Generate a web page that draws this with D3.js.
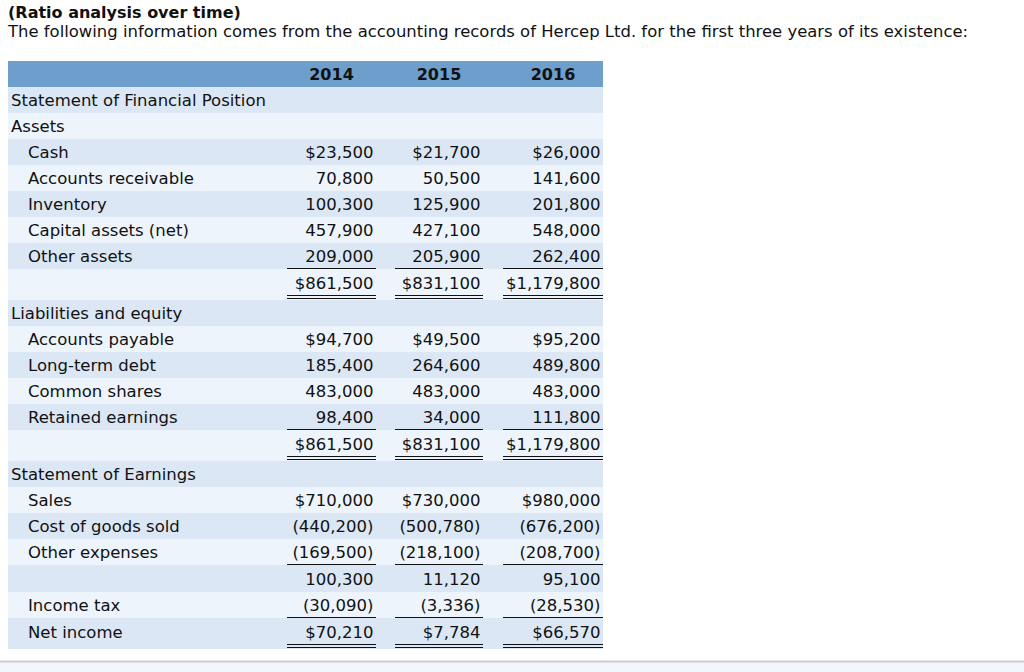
<!DOCTYPE html>
<html><head><meta charset="utf-8">
<script src="https://cdn.jsdelivr.net/npm/d3@7"></script>
<style>
html,body{margin:0;padding:0;background:#fff;}
svg{display:block;font-family:Verdana,"DejaVu Sans",sans-serif;}
</style></head>
<body><div id="chart"></div>
<script>
// ---------- data ----------
const title = "(Ratio analysis over time)";
const subtitle = "The following information comes from the accounting records of Hercep Ltd. for the first three years of its existence:";
const years = ["2014", "2015", "2016"];
const rowLabels = ["Statement of Financial Position", "Assets", "Cash", "Accounts receivable", "Inventory",
  "Capital assets (net)", "Other assets", "", "Liabilities and equity", "Accounts payable", "Long-term debt",
  "Common shares", "Retained earnings", "", "Statement of Earnings", "Sales", "Cost of goods sold",
  "Other expenses", "", "Income tax", "Net income"];
const rowKinds = ["section", "section", "item", "item", "item", "item", "item", "total", "section", "item", "item",
  "item", "item", "total", "section", "item", "item", "item", "subtotal", "item", "total"];
const dollarRows = [2, 7, 9, 13, 15, 20];
const values2014 = [null, null, 23500, 70800, 100300, 457900, 209000, 861500, null, 94700, 185400, 483000, 98400, 861500,
  null, 710000, -440200, -169500, 100300, -30090, 70210];
const values2015 = [null, null, 21700, 50500, 125900, 427100, 205900, 831100, null, 49500, 264600, 483000, 34000, 831100,
  null, 730000, -500780, -218100, 11120, -3336, 7784];
const values2016 = [null, null, 26000, 141600, 201800, 548000, 262400, 1179800, null, 95200, 489800, 483000, 111800, 1179800,
  null, 980000, -676200, -208700, 95100, -28530, 66570];
const seriesValues = [values2014, values2015, values2016];

// ---------- layout ----------
const W = 1024, H = 672;
const svg = d3.select("#chart").append("svg").attr("width", W).attr("height", H);
const fontSize = 16.5;
const tableLeft = 8, tableRight = 603;
const headerTop = 61, headerH = 26;
const colSpans = [[287, 376], [395, 483], [503, 603]];
const dark = "#dce7f5", light = "#edf4fc", headerColor = "#6e9ecb";

svg.append("text").attr("x", 8).attr("y", 18).attr("font-size", 16).attr("font-weight", "bold")
  .attr("fill", "#111").text(title);
svg.append("text").attr("x", 8).attr("y", 37).attr("font-size", 16.45).attr("fill", "#111").text(subtitle);

// header
svg.append("rect").attr("x", tableLeft).attr("y", headerTop).attr("width", tableRight - tableLeft)
  .attr("height", headerH).attr("fill", headerColor);
svg.selectAll("text.year").data(years).join("text").attr("class", "year")
  .attr("x", (d, i) => (colSpans[i][0] + colSpans[i][1]) / 2)
  .attr("y", headerTop + headerH / 2).attr("dy", "0.36em").attr("text-anchor", "middle")
  .attr("font-size", 16).attr("font-weight", "bold").attr("fill", "#111").text(d => d);

// rows
const hasTopRule = k => k === "total" || k === "subtotal";
const hasDouble = k => k === "total";
const rows = [];
let y = headerTop + headerH;
rowLabels.forEach((lab, i) => {
  const k = rowKinds[i];
  const h = 26 + (hasTopRule(k) ? 1 : 0) + (hasDouble(k) ? 4 : 0);
  rows.push({ i, lab, k, top: y, h, textY: y + (hasTopRule(k) ? 1 : 0) + 13 });
  y += h;
});

const fmtNum = d3.format(",");
function fmt(v, i) {
  if (v == null) return "";
  const s = (dollarRows.includes(i) ? "$" : "") + fmtNum(Math.abs(v));
  return v < 0 ? "(" + s + ")" : s;
}

const g = svg.selectAll("g.row").data(rows).join("g").attr("class", "row");
g.append("rect").attr("x", tableLeft).attr("y", d => d.top).attr("width", tableRight - tableLeft)
  .attr("height", d => d.h).attr("fill", d => d.i % 2 === 0 ? dark : light);
g.append("text").attr("x", d => d.k === "section" ? 11 : 28).attr("y", d => d.textY).attr("dy", "0.36em")
  .attr("font-size", fontSize).attr("fill", "#111").text(d => d.lab);

years.forEach((yr, c) => {
  const [x0, x1] = colSpans[c];
  g.append("text").attr("x", x1 - 2.5).attr("y", d => d.textY).attr("dy", "0.36em")
    .attr("text-anchor", "end").attr("font-size", fontSize).attr("fill", "#111")
    .text(d => fmt(seriesValues[c][d.i], d.i));
  g.filter(d => hasTopRule(d.k)).append("line").attr("x1", x0).attr("x2", x1)
    .attr("y1", d => d.top - 0.5).attr("y2", d => d.top - 0.5).attr("stroke", "#111").attr("stroke-width", 1);
  g.filter(d => hasDouble(d.k)).each(function (d) {
    const s = d3.select(this);
    [d.top + d.h - 4.5, d.top + d.h - 1.5].forEach(yy =>
      s.append("line").attr("x1", x0).attr("x2", x1).attr("y1", yy).attr("y2", yy)
        .attr("stroke", "#111").attr("stroke-width", 1));
  });
});

// bottom divider
svg.append("rect").attr("x", 0).attr("y", 661).attr("width", W).attr("height", H - 661).attr("fill", "#f3f6fa");
svg.append("line").attr("x1", 0).attr("x2", W).attr("y1", 661.5).attr("y2", 661.5).attr("stroke", "#c9ccd0").attr("stroke-width", 2);
</script></body></html>
